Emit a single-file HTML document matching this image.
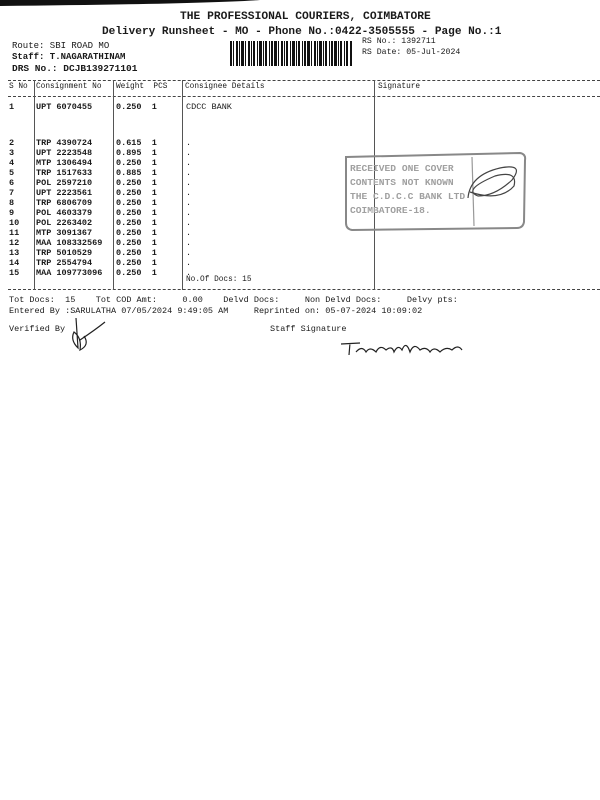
<!DOCTYPE html>
<html><head><meta charset="utf-8"><style>
*{margin:0;padding:0}
body{width:600px;height:800px;background:#fff;position:relative;overflow:hidden;font-family:"Liberation Mono","DejaVu Sans Mono",monospace;color:#1a1a1a}
.t{position:absolute;white-space:pre;line-height:1}
.b{font-weight:bold}
.s{font-size:8.5px}
.d{position:absolute;height:0;border-top:1px dashed #444}
.v{position:absolute;width:0;border-left:1px solid #555}
</style></head><body>
<svg style="position:absolute;left:0;top:0" width="600" height="8"><path d="M0 0 H260 Q200 4 0 6 Z" fill="#111"/></svg>
<div class="t b" style="left:180px;top:12px;font-size:11.3px">THE PROFESSIONAL COURIERS, COIMBATORE</div>
<div class="t b" style="left:102px;top:27px;font-size:11.1px">Delivery Runsheet - MO - Phone No.:0422-3505555 - Page No.:1</div>
<div class="t" style="left:12px;top:42px;font-size:9px">Route: SBI ROAD MO</div>
<div class="t b" style="left:12px;top:53px;font-size:9px">Staff: T.NAGARATHINAM</div>
<div class="t b" style="left:12px;top:64px;font-size:9.5px">DRS No.: DCJB139271101</div>
<svg style="position:absolute;left:230px;top:41px" width="122" height="25">
<g fill="#111">
<rect x="0" width="2" height="25"/><rect x="3" width="1" height="25"/><rect x="6" width="2" height="25"/><rect x="9" width="1" height="25"/><rect x="11" width="3" height="25"/><rect x="15" width="1" height="25"/><rect x="18" width="2" height="25"/><rect x="21" width="1" height="25"/><rect x="23" width="2" height="25"/><rect x="27" width="1" height="25"/><rect x="29" width="3" height="25"/><rect x="33" width="1" height="25"/><rect x="35" width="2" height="25"/><rect x="39" width="1" height="25"/><rect x="41" width="2" height="25"/><rect x="44" width="3" height="25"/><rect x="48" width="1" height="25"/><rect x="51" width="2" height="25"/><rect x="54" width="1" height="25"/><rect x="56" width="2" height="25"/><rect x="60" width="1" height="25"/><rect x="62" width="3" height="25"/><rect x="66" width="1" height="25"/><rect x="68" width="2" height="25"/><rect x="72" width="1" height="25"/><rect x="74" width="2" height="25"/><rect x="77" width="3" height="25"/><rect x="81" width="1" height="25"/><rect x="84" width="2" height="25"/><rect x="87" width="1" height="25"/><rect x="89" width="3" height="25"/><rect x="93" width="1" height="25"/><rect x="95" width="2" height="25"/><rect x="99" width="1" height="25"/><rect x="101" width="2" height="25"/><rect x="104" width="3" height="25"/><rect x="108" width="1" height="25"/><rect x="110" width="2" height="25"/><rect x="114" width="1" height="25"/><rect x="116" width="2" height="25"/><rect x="120" width="2" height="25"/>
</g></svg>
<div class="t" style="left:362px;top:38px;font-size:8.2px">RS No.: 1392711</div>
<div class="t" style="left:362px;top:49px;font-size:8.2px">RS Date: 05-Jul-2024</div>

<div class="d" style="left:8px;width:592px;top:80px"></div>
<div class="d" style="left:8px;width:592px;top:96px"></div>
<div class="d" style="left:8px;width:592px;top:289px"></div>
<div class="v" style="left:34px;top:80px;height:210px"></div>
<div class="v" style="left:113px;top:80px;height:210px"></div>
<div class="v" style="left:182px;top:80px;height:210px"></div>
<div class="v" style="left:374px;top:80px;height:210px"></div>

<div class="t s" style="left:9px;top:84px;font-size:7.8px">S No</div>
<div class="t s" style="left:36px;top:84px;font-size:7.8px">Consignment No</div>
<div class="t s" style="left:116px;top:84px;font-size:7.8px">Weight  PCS</div>
<div class="t s" style="left:185px;top:84px;font-size:7.8px">Consignee Details</div>
<div class="t s" style="left:378px;top:84px;font-size:7.8px">Signature</div>

<div class="t s b" style="left:9px;top:103px">1</div>
<div class="t s b" style="left:36px;top:103px">UPT 6070455</div>
<div class="t s b" style="left:116px;top:103px">0.250  1</div>
<div class="t s" style="left:186px;top:103px">CDCC BANK</div>

<div class="t s b" style="left:9px;top:138px;line-height:10px">2
3
4
5
6
7
8
9
10
11
12
13
14
15</div>
<div class="t s b" style="left:36px;top:138px;line-height:10px">TRP 4390724
UPT 2223548
MTP 1306494
TRP 1517633
POL 2597210
UPT 2223561
TRP 6806709
POL 4603379
POL 2263402
MTP 3091367
MAA 108332569
TRP 5010529
TRP 2554794
MAA 109773096</div>
<div class="t s b" style="left:116px;top:138px;line-height:10px">0.615  1
0.895  1
0.250  1
0.885  1
0.250  1
0.250  1
0.250  1
0.250  1
0.250  1
0.250  1
0.250  1
0.250  1
0.250  1
0.250  1</div>
<div class="t s" style="left:186px;top:138px;line-height:10px">.
.
.
.
.
.
.
.
.
.
.
.
.
.</div>
<div class="t s" style="left:186px;top:277px;font-size:7.8px">No.Of Docs: 15</div>

<div class="t s" style="left:9px;top:296px">Tot Docs:  15    Tot COD Amt:     0.00    Delvd Docs:     Non Delvd Docs:     Delvy pts:</div>
<div class="t s" style="left:9px;top:307px">Entered By :SARULATHA 07/05/2024 9:49:05 AM     Reprinted on: 05-07-2024 10:09:02</div>
<div class="t s" style="left:9px;top:325px">Verified By</div>
<div class="t s" style="left:270px;top:325px">Staff Signature</div>

<svg style="position:absolute;left:0;top:0" width="600" height="800">
<g fill="none" stroke="#555" stroke-width="1.2">
<path d="M346 157 L520 153 Q526 154 525 160 L524 222 Q523 228 517 228 L352 230 Q346 229 346 223 Z" stroke="#888" stroke-width="2"/>
<path d="M472 157 L474 226" stroke="#999"/>
<path d="M468 198 Q470 175 500 168 Q525 163 512 180 Q495 196 478 196 Q462 190 495 176 Q518 170 514 186 Q500 202 470 192" stroke="#444"/>
<path d="M76 318 L78 348 Q70 340 74 332 Q82 338 80 350 Q90 345 84 336 M80 340 Q95 330 105 322" stroke="#222"/>
<path d="M341 344 L360 343 M350 343 L349 355 M356 352 Q362 345 366 352 Q370 346 376 352 Q380 344 386 350 Q392 345 394 352 Q398 344 402 350 Q406 340 410 352 Q414 342 420 350 Q426 346 430 352 Q434 346 440 352 Q446 346 452 350 Q458 344 462 350" stroke="#222"/>
</g>
<g font-family="Liberation Mono, monospace" font-size="9.6" fill="#a0a0a0" font-weight="bold">
<text x="350" y="171">RECEIVED ONE COVER</text>
<text x="350" y="185">CONTENTS NOT KNOWN</text>
<text x="350" y="199">THE C.D.C.C BANK LTD</text>
<text x="350" y="213">COIMBATORE-18.</text>
</g>
</svg>
</body></html>
